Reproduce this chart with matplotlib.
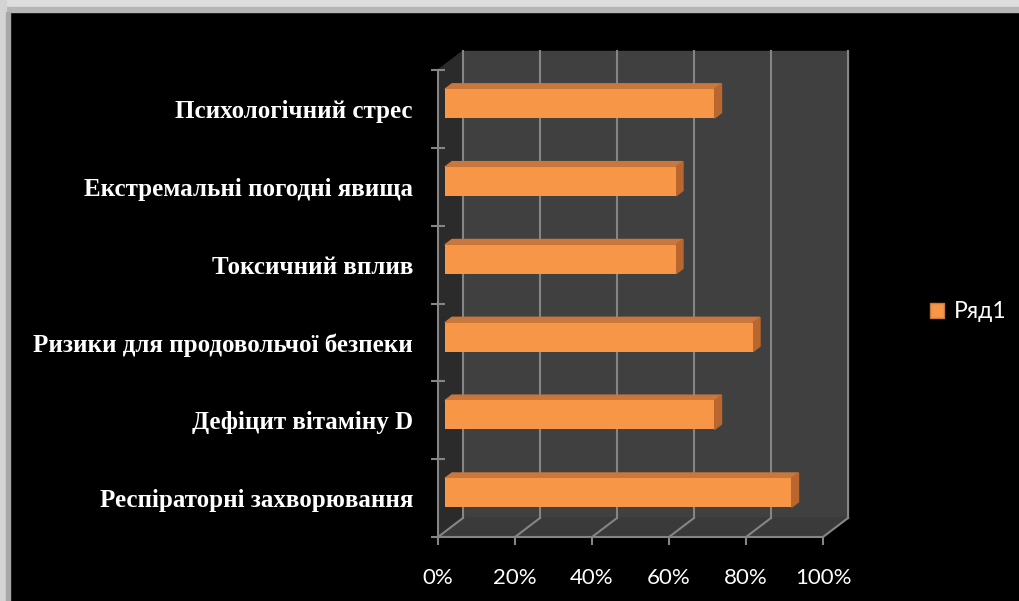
import matplotlib.pyplot as plt
from matplotlib.patches import Polygon, Rectangle, Patch
import numpy as np

categories = [
    'Респіраторні захворювання',
    'Дефіцит вітаміну D',
    'Ризики для продовольчої безпеки',
    'Токсичний вплив',
    'Екстремальні погодні явища',
    'Психологічний стрес',
]
values = [0.90, 0.70, 0.80, 0.60, 0.60, 0.70]
x_ticks = [0, 0.2, 0.4, 0.6, 0.8, 1.0]
x_labels = ['0%', '20%', '40%', '60%', '80%', '100%']
series_name = 'Ряд1'

# colours
bg = '#000000'
wall = '#404040'
side_wall = '#2b2b2b'
floor = '#3a3a3a'
grid = '#858585'
bar_front = '#f79646'
bar_top = '#c8773d'
bar_side = '#b9672e'
txt = '#ffffff'

W, H = 1020, 601
fig = plt.figure(figsize=(W / 100, H / 100), dpi=100)
fig.patch.set_facecolor(bg)

# frame bands (top / left)
fig.patches.append(Rectangle((0, 1 - 7 / H), 1, 7 / H, transform=fig.transFigure,
                             color='#dedede', zorder=0))
fig.patches.append(Rectangle((0, 1 - 12 / H), 1, 5 / H, transform=fig.transFigure,
                             color='#b6b6b6', zorder=0))
fig.patches.append(Rectangle((0, 0), 6 / W, 1, transform=fig.transFigure,
                             color='#d4d4d4', zorder=0))
fig.patches.append(Rectangle((6 / W, 0), 4 / W, 1 - 12 / H, transform=fig.transFigure,
                             color='#a8a8a8', zorder=0))

ax = fig.add_axes([438 / W, 1 - 537 / H, 385 / W, 467 / H])
ax.set_facecolor('none')
n = len(categories)
ax.set_xlim(0, 1)
ax.set_ylim(0, n)

# depth offsets in data units
dx = 25 / 385
dy = 19 / (467 / n)

# walls
ax.add_patch(Polygon([(dx, dy), (1 + dx, dy), (1 + dx, n + dy), (dx, n + dy)],
                     closed=True, color=wall, clip_on=False, zorder=1))
ax.add_patch(Polygon([(0, 0), (dx, dy), (dx, n + dy), (0, n)],
                     closed=True, color=side_wall, clip_on=False, zorder=1))
ax.add_patch(Polygon([(0, 0), (1, 0), (1 + dx, dy), (dx, dy)],
                     closed=True, color=floor, clip_on=False, zorder=1))

for t in x_ticks:
    ax.plot([t + dx, t + dx], [dy, n + dy], color=grid, lw=1.5, clip_on=False, zorder=2)
    ax.plot([t, t + dx], [0, dy], color=grid, lw=1.5, clip_on=False, zorder=2)

# 3D bars
d0, d1 = 0.28, 0.56
half = 0.186
for i, v in enumerate(values):
    yc = i + 0.5 + d0 * dy
    x0 = d0 * dx
    y0, y1 = yc - half, yc + half
    ex, ey = (d1 - d0) * dx, (d1 - d0) * dy
    ax.add_patch(Polygon([(x0, y1), (v + x0, y1), (v + x0 + ex, y1 + ey), (x0 + ex, y1 + ey)],
                         closed=True, color=bar_top, clip_on=False, zorder=3))
    ax.add_patch(Polygon([(v + x0, y0), (v + x0 + ex, y0 + ey), (v + x0 + ex, y1 + ey), (v + x0, y1)],
                         closed=True, color=bar_side, clip_on=False, zorder=3))
    ax.barh(yc, v, height=2 * half, left=x0, color=bar_front, zorder=4, clip_on=False)

# axes lines and ticks
for s in ['top', 'right']:
    ax.spines[s].set_visible(False)
for s in ['left', 'bottom']:
    ax.spines[s].set_color(grid)
    ax.spines[s].set_linewidth(1.5)
    ax.spines[s].set_zorder(5)

ax.set_xticks(x_ticks)
ax.set_xticklabels(x_labels, family='Lato', fontsize=16, color=txt)
ax.tick_params(axis='x', direction='out', length=6, width=1.5, color=grid, pad=16)

ax.set_yticks(np.arange(n + 1))
ax.set_yticklabels([])
ax.tick_params(axis='y', which='major', direction='inout', length=10, width=1.5, color=grid)
ax.set_yticks(np.arange(n) + 0.5, minor=True)
ax.set_yticklabels(categories, minor=True, family='Liberation Serif', fontweight='bold',
                   fontsize=18, color=txt)
ax.tick_params(axis='y', which='minor', length=0, pad=18)

handle = Patch(facecolor=bar_front, edgecolor='#c8773d', label=series_name)
leg = fig.legend(handles=[handle], loc='center left', bbox_to_anchor=(909 / W, 1 - 312 / H),
                 frameon=False, handlelength=0.63, handleheight=0.63, handletextpad=0.45,
                 prop={'family': 'Lato', 'size': 16.5})
for t in leg.get_texts():
    t.set_color(txt)

fig.savefig('out.png', dpi=100, facecolor=bg)
